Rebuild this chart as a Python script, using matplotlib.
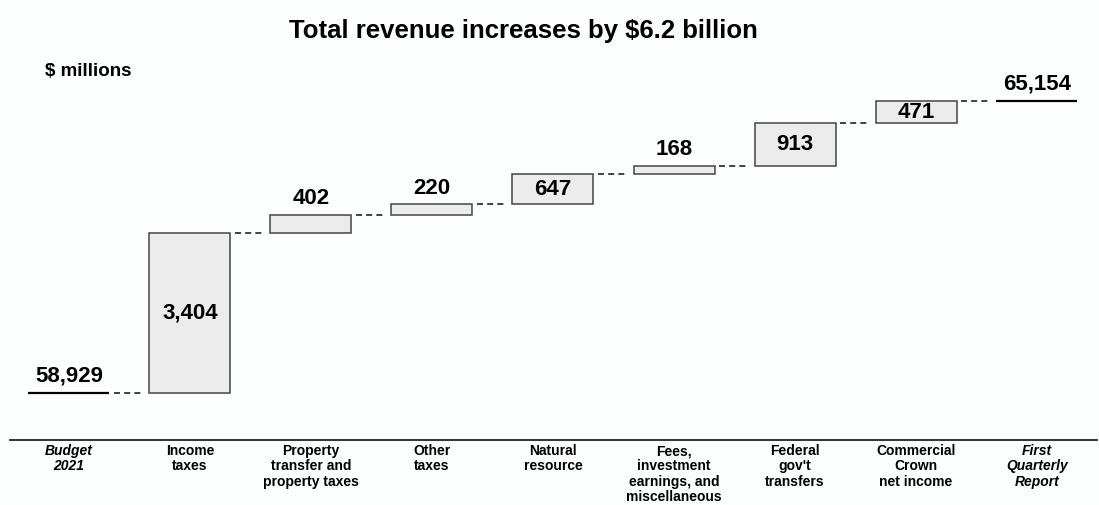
import numpy as np
import matplotlib
matplotlib.use("Agg")
import matplotlib.pyplot as plt

plt.rcParams['font.family'] = ['Liberation Sans', 'DejaVu Sans']

# ─── Datos ───────────────────────────────────────────────────────────────────
categories = ["Budget\n2021", "Income\ntaxes", "Property\ntransfer and\nproperty taxes",
              "Other\ntaxes", "Natural\nresource", "Fees,\ninvestment\nearnings, and\nmiscellaneous",
              "Federal\ngov't\ntransfers", "Commercial\nCrown\nnet income", "First\nQuarterly\nReport"]
start_value = 58929
changes = [3404, 402, 220, 647, 168, 913, 471]
end_value = 65154
italic_cats = [0, 8]

# ─── Estilo ──────────────────────────────────────────────────────────────────
BG = "#fcfdfd"
BAR_FILL = "#ececec"
BAR_EDGE = "#444444"
W, H = 1099, 505

fig = plt.figure(figsize=(W / 100, H / 100), dpi=100, facecolor=BG)
ax = fig.add_axes([0, 0, 1, 1])
ax.set_facecolor(BG)
ax.axis('off')

# escala: centro de la primera categoria en x=69px, 121px por categoria
px_per_cat = 121
x0_px = 69
ax.set_xlim(-x0_px / px_per_cat, (W - x0_px) / px_per_cat)
units_per_px = (end_value - start_value) / (393.3 - 101)
ax.set_ylim(start_value - (H - 393.3) * units_per_px, end_value + 101 * units_per_px)

width = 81 / px_per_cat
x = np.arange(len(categories))
bottoms = start_value + np.concatenate([[0], np.cumsum(changes)[:-1]])
tops = bottoms + np.array(changes)

# lineas de totales
for xi, val in [(x[0], start_value), (x[-1], end_value)]:
    ax.plot([xi - width / 2, xi + width / 2], [val, val], color='black', lw=1.6,
            solid_capstyle='butt', zorder=3)
    ax.annotate(f"{val:,}", (xi, val), xytext=(0, 5), textcoords='offset points',
                ha='center', va='bottom', fontsize=16, fontweight='bold')

# barras de cambios
ax.bar(x[1:-1], changes, bottom=bottoms, width=width, color=BAR_FILL,
       edgecolor=BAR_EDGE, linewidth=1.1, zorder=2)
for xi, b, c in zip(x[1:-1], bottoms, changes):
    if c > 450:
        ax.text(xi, b + c / 2, f"{c:,}", ha='center', va='center',
                fontsize=16, fontweight='bold', zorder=4)
    else:
        ax.annotate(f"{c:,}", (xi, b + c), xytext=(0, 4), textcoords='offset points',
                    ha='center', va='bottom', fontsize=16, fontweight='bold')

# conectores punteados
levels = [start_value] + list(tops)
for i, lvl in enumerate(levels):
    ax.plot([x[i] + width / 2 + 0.035, x[i + 1] - width / 2 - 0.055], [lvl, lvl],
            color='#222222', lw=1.2, linestyle=(0, (3.6, 2.5)), zorder=1)

# etiquetas de categorias
label_y = ax.get_ylim()[1] - 444 * units_per_px
for i, (xi, lab) in enumerate(zip(x, categories)):
    ax.text(xi, label_y, lab, ha='center', va='top', fontsize=10, fontweight='bold',
            style='italic' if i in italic_cats else 'normal', linespacing=1.12)

# linea base
fig.add_artist(plt.Line2D([10 / W, 1097 / W], [1 - 440 / H, 1 - 440 / H],
                          color='#222222', lw=1.3))

fig.text(523 / W, 1 - 31 / H, "Total revenue increases by $6.2 billion",
         ha='center', va='center', fontsize=18.5, fontweight='bold')
fig.text(45 / W, 1 - 71 / H, "$ millions", ha='left', va='center',
         fontsize=13.5, fontweight='bold')

fig.savefig("out.png", dpi=100, facecolor=BG)
